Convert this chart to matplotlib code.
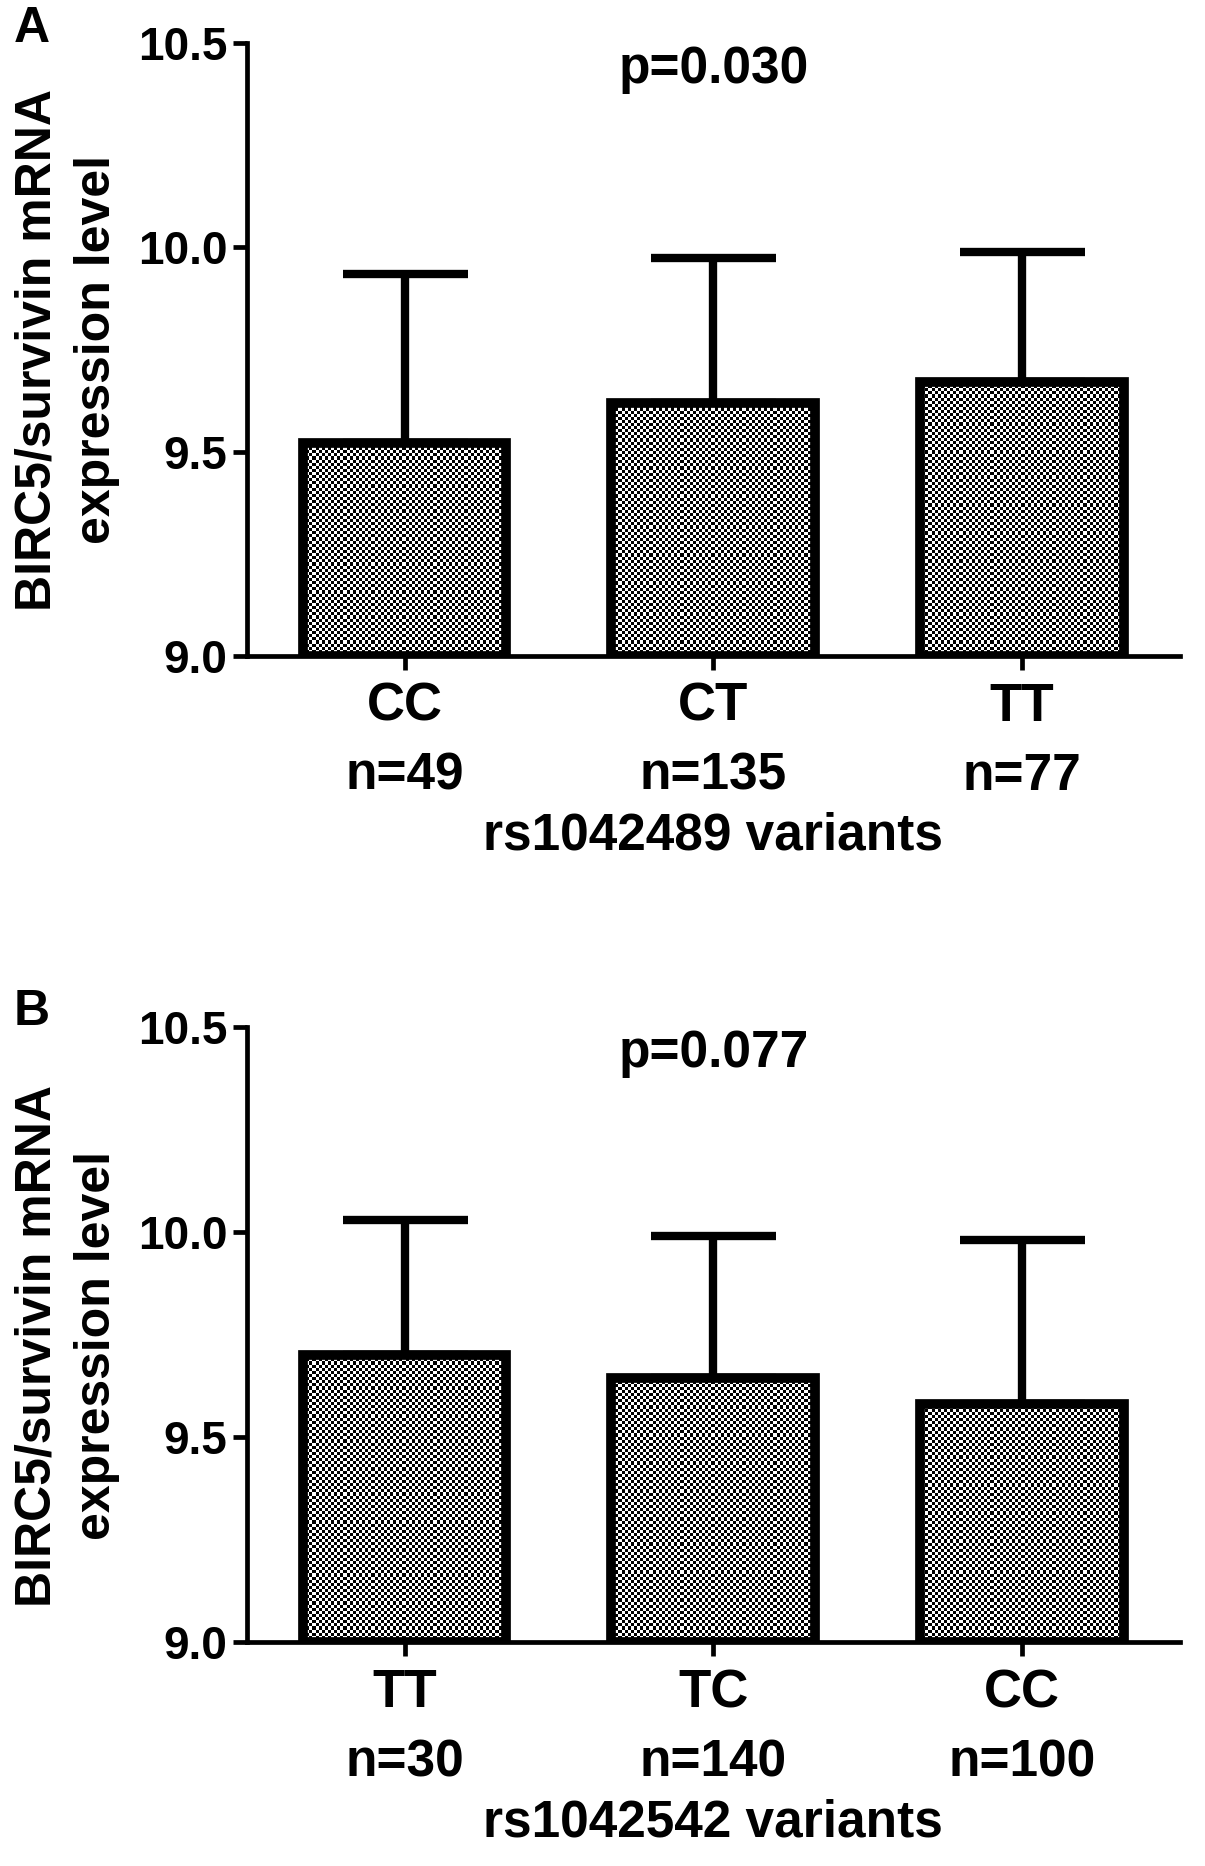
import matplotlib
matplotlib.use("Agg")
import matplotlib.pyplot as plt
import numpy as np

plt.rcParams['font.family'] = ['Liberation Sans', 'DejaVu Sans']
plt.rcParams['font.weight'] = 'bold'

# panel A
genotypes_a = ['CC', 'CT', 'TT']
counts_a = [49, 135, 77]
means_a = [9.52, 9.62, 9.67]
sd_a = [0.415, 0.355, 0.32]
p_a = 'p=0.030'
snp_a = 'rs1042489 variants'

# panel B
genotypes_b = ['TT', 'TC', 'CC']
counts_b = [30, 140, 100]
means_b = [9.70, 9.645, 9.58]
sd_b = [0.33, 0.345, 0.40]
p_b = 'p=0.077'
snp_b = 'rs1042542 variants'

yticks = [9.0, 9.5, 10.0, 10.5]

W, H = 1205, 1866
XLIM = (-0.51, 2.51)
fig = plt.figure(figsize=(W / 100, H / 100), dpi=100)


def checker(ax):
    # fine black/white checkerboard texture, ~3 px cells
    bb = ax.get_position()
    nx = int(round(bb.width * W / 3.1))
    ny = int(round(bb.height * H / 3.1))
    yy, xx = np.mgrid[0:ny, 0:nx]
    return (xx + yy) % 2


def panel(ax, letter, genos, counts, means, sds, ptxt, xlab, yshift):
    x = np.arange(len(genos))
    ax.errorbar(x, means, yerr=[np.zeros(len(sds)), sds], fmt='none',
                ecolor='black', elinewidth=6, capsize=45, capthick=6,
                zorder=1)
    bars = ax.bar(x, [m - 9.0 for m in means], bottom=9.0, width=0.66,
                  facecolor='none', edgecolor='black', linewidth=7, zorder=3)
    tex = checker(ax)
    for b in bars:
        im = ax.imshow(tex, cmap='gray', extent=(XLIM[0], XLIM[1], 9.0, 10.5),
                       interpolation='nearest', aspect='auto', zorder=2)
        im.set_clip_path(b)
    ax.set_xlim(*XLIM)
    ax.set_ylim(9.0, 10.5)
    ax.set_yticks(yticks)
    ax.set_yticklabels([f'{t:.1f}' for t in yticks], fontsize=33,
                       fontweight='bold')
    ax.set_xticks(x)
    ax.set_xticklabels([])
    ax.tick_params(axis='both', direction='out', length=10, width=3.4)
    ax.tick_params(axis='y', pad=4)
    for s in ['top', 'right']:
        ax.spines[s].set_visible(False)
    for s in ['left', 'bottom']:
        ax.spines[s].set_linewidth(3.4)
    for xi, g, n in zip(x, genos, counts):
        ax.annotate(g, xy=(xi, 0), xycoords=('data', 'axes fraction'),
                    xytext=(0, -37), textcoords='offset points',
                    ha='center', va='center', fontsize=38, fontweight='bold')
        ax.annotate(f'n={n}', xy=(xi, 0), xycoords=('data', 'axes fraction'),
                    xytext=(0, -87), textcoords='offset points',
                    ha='center', va='center', fontsize=37, fontweight='bold')
    ax.annotate(xlab, xy=(1, 0), xycoords=('data', 'axes fraction'),
                xytext=(0, -130), textcoords='offset points',
                ha='center', va='center', fontsize=37, fontweight='bold')
    ax.annotate(ptxt, xy=(1, 1), xycoords=('data', 'axes fraction'),
                xytext=(0, -19), textcoords='offset points',
                ha='center', va='center', fontsize=37, fontweight='bold')
    bb = ax.get_position()
    fig.text(0.011, bb.y1 + 0.008, letter, fontsize=36, fontweight='bold',
             ha='left', va='center')
    fig.text(0.056, (bb.y0 + bb.y1) / 2 + yshift,
             'BIRC5/survivin mRNA\nexpression level', rotation=90,
             ha='center', va='center', fontsize=36, fontweight='bold',
             linespacing=1.38)


ax_a = fig.add_axes([0.205, 0.6487, 0.774, 0.328])
ax_b = fig.add_axes([0.205, 0.120, 0.774, 0.3296])
panel(ax_a, 'A', genotypes_a, counts_a, means_a, sd_a, p_a, snp_a, 0.0)
panel(ax_b, 'B', genotypes_b, counts_b, means_b, sd_b, p_b, snp_b, -0.006)

fig.savefig('out.png', dpi=100)
